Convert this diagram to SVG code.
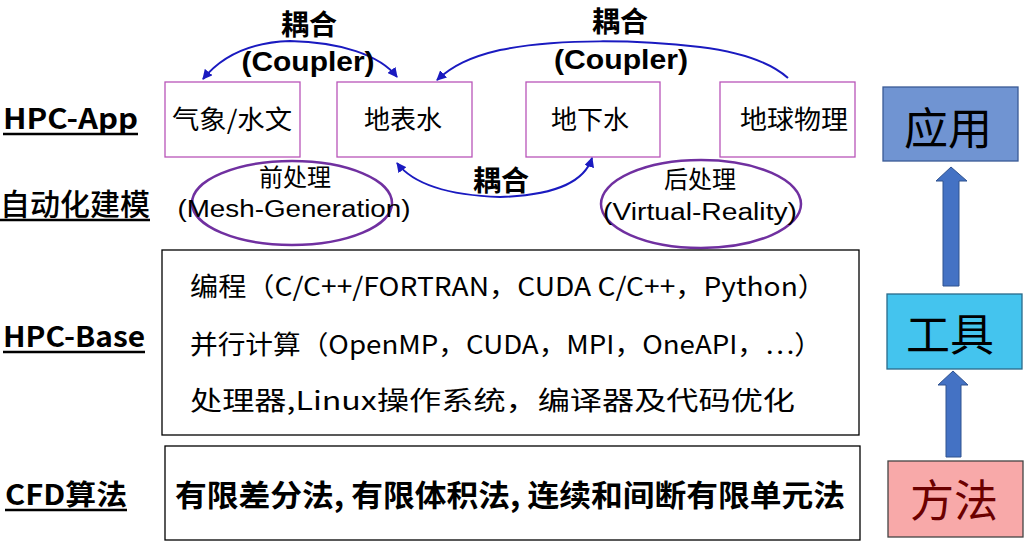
<svg xmlns="http://www.w3.org/2000/svg" width="1033" height="547" viewBox="0 0 1033 547">
<style>
text{font-family:"Noto Sans CJK SC","Noto Sans",sans-serif;fill:#000}
.lbl{font-weight:bold;font-size:28px}
.lat{font-family:"Liberation Sans",Arial,sans-serif}
.app{fill:#fff;stroke:#b955b9;stroke-width:1.3}
.ell{fill:none;stroke:#7030a0;stroke-width:2.5}
.cpl{fill:none;stroke:#1a1ac0;stroke-width:2}
.bt{font-size:26px}
.big{font-size:44px}
.ul{stroke:#000;stroke-width:2.5}
.up{fill:#4472c4;stroke:#2f528f;stroke-width:1}
</style>
<defs>
<marker id="ah" viewBox="0 0 10 10" refX="9" refY="5" markerWidth="5" markerHeight="5" orient="auto-start-reverse" markerUnits="strokeWidth">
<path d="M0,0 L10,5 L0,10 z" fill="#1a1ac0"/>
</marker>
</defs>
<rect width="1033" height="547" fill="#fff"/>

<g id="labels">
<text class="lbl" x="3" y="129" textLength="135" lengthAdjust="spacingAndGlyphs">HPC-App</text>
<line class="ul" x1="3" y1="134" x2="138" y2="134"/>
<text x="0" y="215" font-size="30" font-weight="500" textLength="150" lengthAdjust="spacingAndGlyphs">自动化建模</text>
<line class="ul" x1="0" y1="220" x2="150" y2="220"/>
<text class="lbl" x="3" y="347" textLength="142" lengthAdjust="spacingAndGlyphs">HPC-Base</text>
<line class="ul" x1="3" y1="352" x2="145" y2="352"/>
<text class="lbl" x="5" y="505" textLength="122" lengthAdjust="spacingAndGlyphs">CFD算法</text>
<line class="ul" x1="5" y1="510" x2="127" y2="510"/>
</g>

<g id="node-qixiang">
<rect class="app" x="165" y="82" width="135" height="75"/>
<text x="232" y="129" font-size="26" text-anchor="middle" textLength="120" lengthAdjust="spacingAndGlyphs">气象/水文</text>
</g>
<g id="node-dibiaoshui">
<rect class="app" x="337" y="82" width="135" height="75"/>
<text x="403" y="129" font-size="26" text-anchor="middle">地表水</text>
</g>
<g id="node-dixiashui">
<rect class="app" x="526" y="82" width="134" height="75"/>
<text x="590" y="129" font-size="26" text-anchor="middle">地下水</text>
</g>
<g id="node-diqiuwuli">
<rect class="app" x="720" y="82" width="135" height="75"/>
<text x="794" y="129" font-size="26" text-anchor="middle" textLength="108" lengthAdjust="spacingAndGlyphs">地球物理</text>
</g>

<g id="node-pre">
<ellipse class="ell" cx="292" cy="203" rx="100" ry="42"/>
<text x="295" y="186" font-size="24" text-anchor="middle">前处理</text>
<text class="lat" x="294" y="217" font-size="23" text-anchor="middle" textLength="233" lengthAdjust="spacingAndGlyphs">(Mesh-Generation)</text>
</g>
<g id="node-post">
<ellipse class="ell" cx="701" cy="204" rx="100" ry="44"/>
<text x="700" y="188" font-size="24" text-anchor="middle">后处理</text>
<text class="lat" x="700" y="220" font-size="23" text-anchor="middle" textLength="194" lengthAdjust="spacingAndGlyphs">(Virtual-Reality)</text>
</g>

<g id="connectors">
<path class="cpl" d="M203,79 C225,52 258,42 290,41 C340,42 380,55 397,77" marker-start="url(#ah)" marker-end="url(#ah)"/>
<path class="cpl" d="M788,78 C770,62 740,52 700,47 C640,40 560,38 500,50 C470,57 452,66 437,80" marker-end="url(#ah)"/>
<path class="cpl" d="M397,163 C410,180 440,195 500,197 C560,195 585,180 592,158" marker-start="url(#ah)" marker-end="url(#ah)"/>
<path class="up" d="M943,286 L943,181 L936,181 L951,167 L967,181 L959,181 L959,286 Z"/>
<path class="up" d="M946,457 L946,385 L938,385 L953,371 L968,385 L961,385 L961,457 Z"/>
</g>
<g id="coupler-labels">
<text class="lbl" x="309" y="35" font-size="30" text-anchor="middle">耦合</text>
<text class="lbl lat" x="308" y="71" text-anchor="middle" textLength="133" lengthAdjust="spacingAndGlyphs">(Coupler)</text>
<text class="lbl" x="620" y="32" font-size="30" text-anchor="middle">耦合</text>
<text class="lbl lat" x="621" y="69" text-anchor="middle" textLength="134" lengthAdjust="spacingAndGlyphs">(Coupler)</text>
<text class="lbl" x="501" y="191" font-size="30" text-anchor="middle">耦合</text>
</g>

<g id="node-base">
<rect x="162" y="250" width="697" height="185" fill="#fff" stroke="#000" stroke-width="1.3"/>
<text class="bt" x="190" y="296" textLength="636" lengthAdjust="spacingAndGlyphs">编程（C/C++/FORTRAN，CUDA C/C++，Python）</text>
<text class="bt" x="190" y="354" textLength="632" lengthAdjust="spacingAndGlyphs">并行计算（OpenMP，CUDA，MPI，OneAPI，…）</text>
<text class="bt" x="190" y="410" textLength="605" lengthAdjust="spacingAndGlyphs">处理器,Linux操作系统，编译器及代码优化</text>
</g>

<g id="node-cfd">
<rect x="165" y="446" width="695" height="94" fill="#fff" stroke="#000" stroke-width="1.3"/>
<text x="175" y="506" font-size="30" font-weight="bold" textLength="670" lengthAdjust="spacingAndGlyphs">有限差分法, 有限体积法, 连续和间断有限单元法</text>
</g>

<g id="node-yingyong">
<rect x="883" y="87" width="135" height="74" fill="#7094d2" stroke="#3a5a96" stroke-width="1.3"/>
<text class="big" x="948" y="145" text-anchor="middle">应用</text>
</g>
<g id="node-gongju">
<rect x="887" y="294" width="135" height="75" fill="#44c4ee" stroke="#2a6a8a" stroke-width="1.3"/>
<text class="big" x="950" y="351" text-anchor="middle">工具</text>
</g>
<g id="node-fangfa">
<rect x="888" y="461" width="135" height="76" fill="#f8a9a9" stroke="#444" stroke-width="1.3"/>
<text class="big" x="954" y="517" text-anchor="middle" style="fill:#6b0000">方法</text>
</g>
</svg>
